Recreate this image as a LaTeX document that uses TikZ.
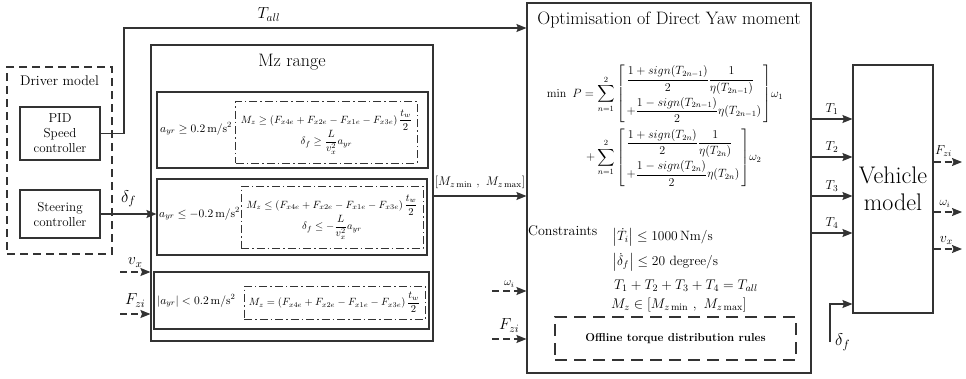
\RequirePackage{fix-cm}
\documentclass[tikz,border=0pt]{standalone}
\usepackage{amsmath}
\usepackage{tikz}
\usetikzlibrary{arrows.meta, positioning, calc}
\definecolor{grisLinea}{HTML}{333333}
\newcommand{\fsz}[2]{\fontsize{#1}{#2}\selectfont}

\begin{document}
\begin{tikzpicture}[x=1pt, y=-1pt,
        blk/.style={draw=grisLinea, line width=1.1pt, inner sep=0pt, align=center},
        dblk/.style={blk, dash pattern=on 8pt off 5pt},
        ddblk/.style={blk, line width=0.9pt, dash pattern=on 8pt off 3pt on 1.5pt off 3pt},
        sig/.style={-{Stealth[length=10pt, width=8pt, inset=1.5pt]}, draw=grisLinea, line width=1.1pt},
        dsig/.style={sig, dash pattern=on 7pt off 4pt},
        txt/.style={inner sep=0pt, align=center}
    ]
        \useasboundingbox (0,0) rectangle (966,378);

        \node[dblk, minimum width=105pt, minimum height=187pt] (driver) at (59.5,160.5) {};
        \node[txt, font=\fsz{14}{16}, below=9pt of driver.north] (drvtit) {Driver model};
        \node[blk, minimum width=80pt, minimum height=53pt, font=\fsz{13}{15}] (pid) at (60,133.5) {PID\\Speed\\controller};
        \node[blk, minimum width=80pt, minimum height=48pt, font=\fsz{13}{15}] (steer) at (60,214) {Steering\\controller};

        \node[blk, minimum width=282pt, minimum height=296pt] (mzr) at (292,193) {};
        \node[txt, font=\fsz{18}{20}] (mztit) at (292,62) {Mz range};
        \node[blk, minimum width=271pt, minimum height=76pt] (caso1) at (292.5,130) {};
        \node[txt, font=\fsz{11.5}{13}, anchor=west] (cond1) at (160,129) {$a_{yr}\geq 0.2\,\mathrm{m/s^2}$};
        \node[ddblk, minimum width=181pt, minimum height=62pt, font=\fsz{10.5}{12}] (rng1) at (326.5,132)
            {$\begin{array}{c}M_z\geq\left(F_{x4e}+F_{x2e}-F_{x1e}-F_{x3e}\right)\dfrac{t_w}{2}\\[3pt] \delta_f\geq\dfrac{L}{v_x^2}a_{yr}\end{array}$};
        \node[blk, minimum width=270pt, minimum height=76pt] (caso2) at (292,217) {};
        \node[txt, font=\fsz{11.5}{13}, anchor=west] (cond2) at (159,214) {$a_{yr}\leq -0.2\,\mathrm{m/s^2}$};
        \node[ddblk, minimum width=182pt, minimum height=62pt, font=\fsz{10.5}{12}] (rng2) at (332,217)
            {$\begin{array}{c}M_z\leq\left(F_{x4e}+F_{x2e}-F_{x1e}-F_{x3e}\right)\dfrac{t_w}{2}\\[3pt] \delta_f\leq -\dfrac{L}{v_x^2}a_{yr}\end{array}$};
        \node[blk, minimum width=275pt, minimum height=57pt] (caso3) at (291.5,300.5) {};
        \node[txt, font=\fsz{11.5}{13}, anchor=west] (cond3) at (157,301) {$\left|a_{yr}\right|<0.2\,\mathrm{m/s^2}$};
        \node[ddblk, minimum width=181pt, minimum height=33pt, font=\fsz{10.5}{12}] (rng3) at (334.5,302.5)
            {$M_z=\left(F_{x4e}+F_{x2e}-F_{x1e}-F_{x3e}\right)\dfrac{t_w}{2}$};

        \node[blk, minimum width=284pt, minimum height=370pt] (opt) at (669,188) {};
        \node[txt, font=\fsz{18}{20}] (opttit) at (669,20) {Optimisation of Direct Yaw moment};
        \node[txt, font=\fsz{12}{14}] (fobj) at (665,126)
            {$\begin{aligned}
              \min\ P=\sum_{n=1}^{2}&\left[\begin{array}{@{\,}l@{\,}}\dfrac{1+sign(T_{2n-1})}{2}\dfrac{1}{\eta(T_{2n-1})}\\[10pt] +\dfrac{1-sign(T_{2n-1})}{2}\eta(T_{2n-1})\end{array}\right]\!\omega_1\\[2pt]
              +\sum_{n=1}^{2}&\left[\begin{array}{@{\,}l@{\,}}\dfrac{1+sign(T_{2n})}{2}\dfrac{1}{\eta(T_{2n})}\\[10pt] +\dfrac{1-sign(T_{2n})}{2}\eta(T_{2n})\end{array}\right]\!\omega_2
            \end{aligned}$};
        \node[txt, font=\fsz{14}{16}, anchor=west] (restr) at (528,231) {Constraints};
        \node[txt, font=\fsz{13.5}{15}, anchor=west] (r1) at (612,237) {$\left|\dot{T}_i\right|\leq 1000\,\mathrm{Nm/s}$};
        \node[txt, font=\fsz{13.5}{15}, anchor=west] (r2) at (612,262) {$\left|\dot{\delta}_f\right|\leq 20\ \text{degree/s}$};
        \node[txt, font=\fsz{14}{16}, anchor=west] (r3) at (614,286) {$T_1+T_2+T_3+T_4=T_{all}$};
        \node[txt, font=\fsz{14}{16}, anchor=west] (r4) at (611,305) {$M_z\in[M_{z\min}\ ,\ M_{z\max}]$};
        \node[blk, dash pattern=on 12pt off 7pt, minimum width=241pt, minimum height=43pt, font=\fsz{11.5}{13}\bfseries] (offline) at (675.5,338.5) {Offline torque distribution rules};

        \node[blk, minimum width=80pt, minimum height=248pt, font=\fsz{24}{27}] (veh) at (893,189) {Vehicle\\model};

        \coordinate (tcodo) at (124,28);
        \coordinate (vxin) at (120,272);
        \coordinate (fzin) at (120,314);
        \coordinate (mzout) at (433,196);
        \coordinate (wiin) at (492,291);
        \coordinate (fzin2) at (492,339);
        \coordinate (dfin) at (830,342);
        \coordinate (salF) at (962,162);
        \coordinate (salW) at (962,212);
        \coordinate (salV) at (962,249);

        \draw[sig] (pid.east) -| (tcodo) -- node[pos=0.36, above=3pt, font=\fsz{16}{18}]{$T_{all}$} (tcodo -| opt.west);
        \draw[sig] (steer.east) -- node[midway, above=3pt, font=\fsz{17}{19}]{$\delta_f$} (steer.east -| caso2.west);
        \draw[dsig] (vxin) -- node[midway, above=1pt, font=\fsz{16}{18}]{$v_x$} (vxin -| mzr.west);
        \draw[dsig] (fzin) -- node[midway, above=3pt, font=\fsz{16}{18}]{$F_{zi}$} (fzin -| mzr.west);
        \draw[sig] (mzr.east |- mzout) -- node[midway, above=3pt, font=\fsz{12.5}{14}]{$[M_{z\min}\ ,\ M_{z\max}]$} (mzout -| opt.west);
        \draw[dsig] (wiin) -- node[midway, above=0pt, font=\fsz{11}{13}]{$\omega_i$} (wiin -| opt.west);
        \draw[dsig] (fzin2) -- node[midway, above=3pt, font=\fsz{16}{18}]{$F_{zi}$} (fzin2 -| opt.west);
        \foreach \i/\y in {1/119,2/157,3/196,4/233}
            \draw[sig] (opt.east |- 0,\y) -- node[midway, above=1pt, font=\fsz{13}{15}]{$T_{\i}$} (veh.west |- 0,\y);
        \draw[dsig] (veh.east |- salF) -- node[pos=0.35, above=2pt, font=\fsz{13}{15}]{$F_{zi}$} (salF);
        \draw[dsig] (veh.east |- salW) -- node[pos=0.4, above=1pt, font=\fsz{12}{14}]{$\omega_i$} (salW);
        \draw[dsig] (veh.east |- salV) -- node[pos=0.45, above=1pt, font=\fsz{14}{16}]{$v_x$} (salV);
        \draw[sig] (dfin) |- (veh.west |- 0,304);
        \node[txt, font=\fsz{17}{19}, right=5pt of dfin] (dflbl) {$\delta_f$};
    \end{tikzpicture}
\end{document}
